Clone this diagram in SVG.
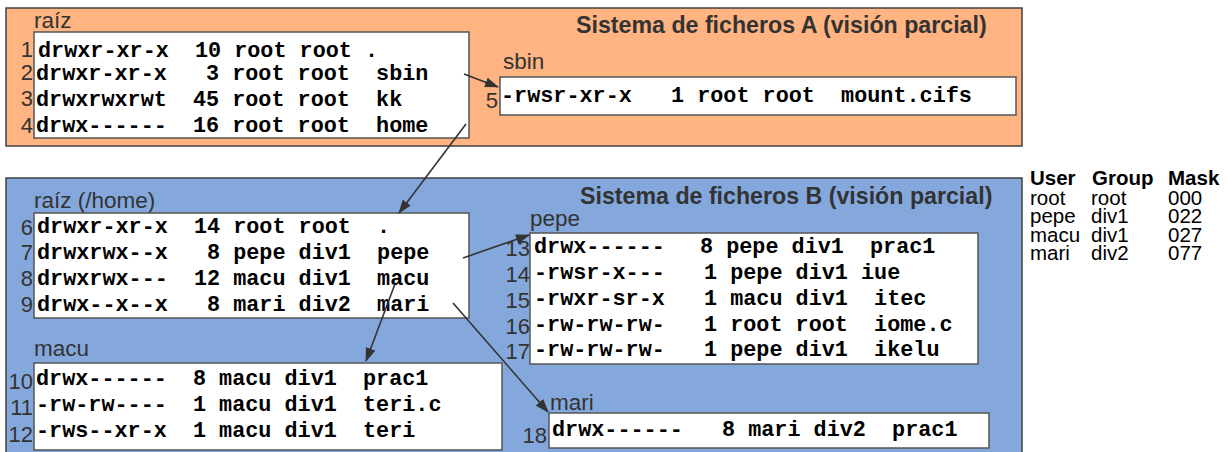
<svg xmlns="http://www.w3.org/2000/svg" width="1230" height="452" viewBox="0 0 1230 452">
<style>
.fsA{fill:#FFB482;stroke:#404040;stroke-width:1.5}
.fsB{fill:#84A8DC;stroke:#404040;stroke-width:1.5}
.box{fill:#FFFFFF;stroke:#555555;stroke-width:1.5}
.mono{font-family:"Liberation Mono","Courier New",monospace;font-weight:bold;font-size:21.8px;fill:#000;white-space:pre}
.num{font-family:"Liberation Sans",Arial,sans-serif;font-size:22px;fill:#333;text-anchor:end}
.lbl{font-family:"Liberation Sans",Arial,sans-serif;font-size:22.5px;fill:#333}
.title{font-family:"Liberation Sans",Arial,sans-serif;font-size:23.2px;font-weight:bold;fill:#333}
.th{font-family:"Liberation Sans",Arial,sans-serif;font-size:20.5px;font-weight:bold;fill:#000}
.td{font-family:"Liberation Sans",Arial,sans-serif;font-size:20.5px;fill:#000}
.conn{stroke:#333;stroke-width:1.6;fill:none;marker-end:url(#ah)}
</style>
<defs>
<marker id="ah" viewBox="0 0 14 10" refX="13" refY="5" markerWidth="14" markerHeight="10" markerUnits="userSpaceOnUse" orient="auto">
<path d="M0,0 L14,5 L0,10 z" fill="#333"/>
</marker>
</defs>
<rect width="1230" height="452" fill="#fff"/>

<g id="fsA">
<rect class="fsA" x="6" y="8" width="1016" height="138"/>
<text class="title" x="576" y="33">Sistema de ficheros A (visión parcial)</text>
</g>
<g id="fsB">
<rect class="fsB" x="6" y="178" width="1016" height="300"/>
<text class="title" x="580" y="204">Sistema de ficheros B (visión parcial)</text>
</g>

<g id="dirA-root">
<text class="lbl" x="34" y="27.5">raíz</text>
<rect class="box" x="34" y="32" width="435" height="106"/>
<text class="num" x="33" y="57">1</text>
<text class="num" x="33" y="80">2</text>
<text class="num" x="33" y="106">3</text>
<text class="num" x="33" y="133">4</text>
<text class="mono" x="38" y="57">drwxr-xr-x  10 root root .</text>
<text class="mono" x="36" y="80">drwxr-xr-x   3 root root  sbin</text>
<text class="mono" x="36" y="106">drwxrwxrwt  45 root root  kk</text>
<text class="mono" x="36" y="132">drwx------  16 root root  home</text>
</g>

<g id="dirA-sbin">
<text class="lbl" x="503" y="69">sbin</text>
<rect class="box" x="500" y="77" width="516" height="38"/>
<text class="num" x="498" y="108">5</text>
<text class="mono" x="501" y="102">-rwsr-xr-x   1 root root  mount.cifs</text>
</g>

<g id="dirB-home">
<text class="lbl" x="34" y="208">raíz (/home)</text>
<rect class="box" x="34" y="213" width="435" height="105"/>
<text class="num" x="33" y="235">6</text>
<text class="num" x="33" y="260">7</text>
<text class="num" x="33" y="286">8</text>
<text class="num" x="33" y="312">9</text>
<text class="mono" x="37" y="233">drwxr-xr-x  14 root root  .</text>
<text class="mono" x="37" y="258.5">drwxrwx--x   8 pepe div1  pepe</text>
<text class="mono" x="37" y="285">drwxrwx---  12 macu div1  macu</text>
<text class="mono" x="37" y="311">drwx--x--x   8 mari div2  mari</text>
</g>

<g id="dirB-pepe">
<text class="lbl" x="530" y="226">pepe</text>
<rect class="box" x="530" y="233" width="448" height="131"/>
<text class="num" x="530" y="256">13</text>
<text class="num" x="530" y="282">14</text>
<text class="num" x="530" y="308">15</text>
<text class="num" x="530" y="334">16</text>
<text class="num" x="530" y="359">17</text>
<text class="mono" x="534" y="253">drwx------<tspan x="700">8 pepe div1  prac1</tspan></text>
<text class="mono" x="534" y="279">-rwsr-x---   1 pepe div1 iue</text>
<text class="mono" x="534" y="305">-rwxr-sr-x   1 macu div1  itec</text>
<text class="mono" x="534" y="331">-rw-rw-rw-   1 root root  iome.c</text>
<text class="mono" x="534" y="356">-rw-rw-rw-   1 pepe div1  ikelu</text>
</g>

<g id="dirB-macu">
<text class="lbl" x="34" y="356">macu</text>
<rect class="box" x="34" y="363" width="468" height="87"/>
<text class="num" x="33" y="389">10</text>
<text class="num" x="33" y="415">11</text>
<text class="num" x="33" y="442">12</text>
<text class="mono" x="36" y="385">drwx------  8 macu div1  prac1</text>
<text class="mono" x="36" y="411">-rw-rw----  1 macu div1  teri.c</text>
<text class="mono" x="36" y="437">-rws--xr-x  1 macu div1  teri</text>
</g>

<g id="dirB-mari">
<text class="lbl" x="550" y="410">mari</text>
<rect class="box" x="549" y="413" width="440" height="35"/>
<text class="num" x="547" y="443">18</text>
<text class="mono" x="552" y="436">drwx------   8 mari div2  prac1</text>
</g>

<g id="users">
<text class="th" x="1030" y="185">User</text>
<text class="th" x="1092" y="185">Group</text>
<text class="th" x="1168" y="185">Mask</text>
<text class="td" x="1030" y="204.5">root</text>
<text class="td" x="1091" y="204.5">root</text>
<text class="td" x="1168" y="204.5">000</text>
<text class="td" x="1030" y="223">pepe</text>
<text class="td" x="1091" y="223">div1</text>
<text class="td" x="1168" y="223">022</text>
<text class="td" x="1030" y="241.5">macu</text>
<text class="td" x="1091" y="241.5">div1</text>
<text class="td" x="1168" y="241.5">027</text>
<text class="td" x="1030" y="260">mari</text>
<text class="td" x="1091" y="260">div2</text>
<text class="td" x="1168" y="260">077</text>
</g>

<g id="connectors">
<line class="conn" x1="464" y1="74" x2="498" y2="87"/>
<line class="conn" x1="466" y1="124" x2="399" y2="213"/>
<line class="conn" x1="463" y1="258" x2="529" y2="235"/>
<line class="conn" x1="395" y1="284" x2="366" y2="361"/>
<line class="conn" x1="453" y1="303" x2="548" y2="412"/>
</g>
</svg>
